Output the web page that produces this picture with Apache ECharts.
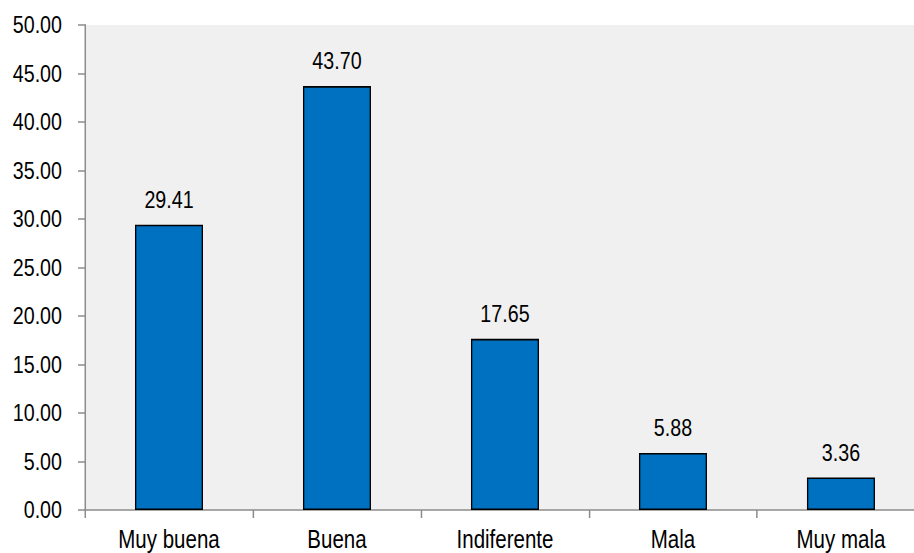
<!DOCTYPE html>
<html>
<head>
<meta charset="utf-8">
<script src="https://cdn.jsdelivr.net/npm/echarts@6/dist/echarts.min.js"></script>
<style>
  html, body { margin: 0; padding: 0; background: #fff; overflow: hidden; }
  #frame { width: 914px; height: 553px; overflow: hidden; position: relative; }
  /* Chart is laid out wide and compressed horizontally so that the
     sans-serif text gets the proportions of a narrow typeface. */
  #chart { width: 1128px; height: 553px; transform: scaleX(0.82); transform-origin: 0 0; }
</style>
</head>
<body>
<div id="frame"><div id="chart"></div></div>
<script>
// Valoración (%) por categoría
const categories = ['Muy buena', 'Buena', 'Indiferente', 'Mala', 'Muy mala'];
const values = [29.41, 43.70, 17.65, 5.88, 3.36];

const SX = 0.82; // horizontal compression applied to the chart element
const FONT = '"Liberation Sans", Arial, sans-serif';

const chart = echarts.init(document.getElementById('chart'), null, { renderer: 'svg' });
chart.setOption({
  animation: false,
  grid: {
    left: 85 / SX, top: 25, bottom: 43, right: 0,
    show: true, backgroundColor: '#F0F0F0', borderWidth: 0
  },
  xAxis: {
    type: 'category',
    data: categories,
    axisLine: { lineStyle: { color: '#8C8C8C', width: 1.5 } },
    axisTick: { show: true, length: 8, interval: 0, lineStyle: { color: '#8C8C8C', width: 1.5 / SX } },
    axisLabel: { color: '#000', fontFamily: FONT, fontSize: 25, margin: 17, interval: 0 }
  },
  yAxis: {
    type: 'value',
    min: 0, max: 50, interval: 5,
    axisLine: { show: true, lineStyle: { color: '#8C8C8C', width: 1.5 / SX } },
    axisTick: { show: true, length: 7 / SX, lineStyle: { color: '#8C8C8C', width: 1.5 } },
    splitLine: { show: false },
    axisLabel: {
      color: '#000', fontFamily: FONT, fontSize: 24, margin: 23 / SX,
      formatter: v => v.toFixed(2)
    }
  },
  series: [{
    type: 'bar',
    data: values,
    barWidth: 68 / SX,
    itemStyle: { color: '#0070C0', borderColor: '#000', borderWidth: 1.6 },
    label: {
      show: true, position: 'top', distance: 13,
      color: '#000', fontFamily: FONT, fontSize: 24,
      formatter: p => p.value.toFixed(2)
    }
  }]
});
</script>
</body>
</html>
